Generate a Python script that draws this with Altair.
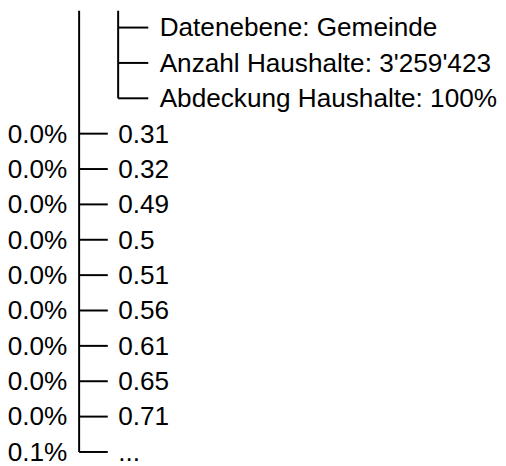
import altair as alt
import pandas as pd

# --- data ---------------------------------------------------------------
info_labels = [
    "Datenebene: Gemeinde",
    "Anzahl Haushalte: 3'259'423",
    "Abdeckung Haushalte: 100%",
]
value_labels = ["0.31", "0.32", "0.49", "0.5", "0.51", "0.56", "0.61", "0.65", "0.71", "..."]
share_labels = ["0.0%", "0.0%", "0.0%", "0.0%", "0.0%", "0.0%", "0.0%", "0.0%", "0.0%", "0.1%"]

info = pd.DataFrame({"row": list(range(len(info_labels))), "label": info_labels})
n_info = len(info_labels)
vals = pd.DataFrame({
    "row": [n_info + i for i in range(len(value_labels))],
    "label": value_labels,
    "share": share_labels,
})

W, H = 496, 458
step = 35.8
top_off = 17
yscale = alt.Scale(domain=[-top_off / step, (H - top_off) / step], reverse=True, nice=False, zero=False)
Y = alt.Y("row:Q", scale=yscale, axis=None)

ink = "#000000"
font = "Liberation Sans"
fs = 26.5

# main trunk
trunk = alt.Chart(vals.tail(1)).mark_rule(color=ink, strokeWidth=2).encode(
    x=alt.value(72), y=Y, y2=alt.value(0)
)
# sub trunk for info nodes
subtrunk = alt.Chart(info.tail(1)).mark_rule(color=ink, strokeWidth=2).encode(
    x=alt.value(111.5), y=Y, y2=alt.value(0)
)
info_branch = alt.Chart(info).mark_rule(color=ink, strokeWidth=2).encode(
    x=alt.value(111.5), x2=alt.value(142), y=Y
)
val_branch = alt.Chart(vals).mark_rule(color=ink, strokeWidth=2).encode(
    x=alt.value(72), x2=alt.value(101), y=Y
)
info_text = alt.Chart(info).mark_text(
    align="left", baseline="middle", font=font, fontSize=fs, color=ink, dy=1
).encode(x=alt.value(153.5), y=Y, text="label:N")
val_text = alt.Chart(vals).mark_text(
    align="left", baseline="middle", font=font, fontSize=fs, color=ink, dy=1
).encode(x=alt.value(111.5), y=Y, text="label:N")
share_text = alt.Chart(vals).mark_text(
    align="right", baseline="middle", font=font, fontSize=fs, color=ink, dy=1
).encode(x=alt.value(60), y=Y, text="share:N")

chart = alt.layer(
    trunk, subtrunk, info_branch, val_branch, info_text, val_text, share_text
).properties(
    width=W, height=H, autosize=alt.AutoSizeParams(type="none"), padding=0
).configure_view(stroke=None)

chart.save("out.html", embed_options={"renderer": "svg", "actions": False})
